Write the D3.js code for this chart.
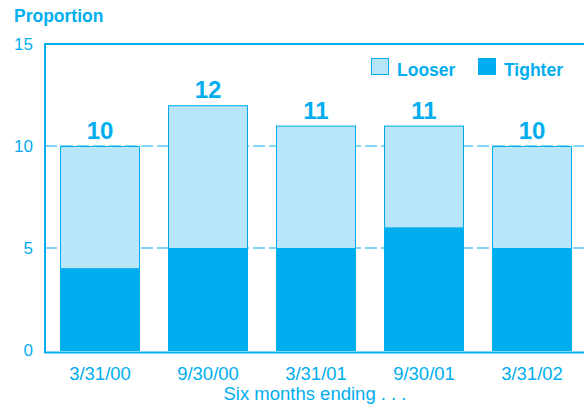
<!DOCTYPE html>
<html>
<head>
<meta charset="utf-8">
<script src="https://cdn.jsdelivr.net/npm/d3@7"></script>
<style>
  html, body { margin: 0; padding: 0; background: #fff; }
  svg { display: block; font-family: "Liberation Sans", Arial, Helvetica, sans-serif; }
</style>
</head>
<body>
<svg id="chart" width="584" height="407"></svg>
<script>
// Six-month periods and the proportion reporting tighter / looser standards
const periods = ["3/31/00", "9/30/00", "3/31/01", "9/30/01", "3/31/02"];
const tighter = [4, 5, 5, 6, 5];
const looser = [6, 7, 6, 5, 5];
const totals = [10, 12, 11, 11, 10];
const yTicks = [0, 5, 10, 15];
const seriesNames = ["Looser", "Tighter"];

const DARK = "#00aeef";
const LIGHT = "#b9e5f9";

const svg = d3.select("#chart");
const plot = { left: 45, right: 600, top: 44, bottom: 351 };

const x = d3.scaleBand()
  .domain(periods)
  .range([60, 572])
  .paddingInner(28 / 108)
  .paddingOuter(0);

const y = d3.scaleLinear().domain([0, 15]).range([350, 44]);

// dashed reference lines at 5 and 10
svg.append("g")
  .selectAll("line")
  .data(yTicks.filter(t => t > 0 && t < 15))
  .join("line")
  .attr("x1", plot.left)
  .attr("x2", plot.right)
  .attr("y1", d => y(d))
  .attr("y2", d => y(d))
  .attr("stroke", DARK)
  .attr("stroke-width", 1.2)
  .attr("stroke-dasharray", "12,4");

// stacked bars: tighter at the bottom, looser above
const rows = periods.map((p, i) => ({ p, tighter: tighter[i], looser: looser[i], total: totals[i] }));
const stack = d3.stack().keys(["tighter", "looser"])(rows);

const bars = svg.append("g");
bars.selectAll("rect.looser")
  .data(stack[1])
  .join("rect")
  .attr("class", "looser")
  .attr("x", d => x(d.data.p) + 0.5)
  .attr("width", x.bandwidth() - 1)
  .attr("y", d => y(d[1]) + 0.5)
  .attr("height", d => y(d[0]) - y(d[1]))
  .attr("fill", LIGHT)
  .attr("stroke", DARK)
  .attr("stroke-width", 1);

bars.selectAll("rect.tighter")
  .data(stack[0])
  .join("rect")
  .attr("class", "tighter")
  .attr("x", d => x(d.data.p))
  .attr("width", x.bandwidth())
  .attr("y", d => y(d[1]))
  .attr("height", d => y(d[0]) - y(d[1]) + 1)
  .attr("fill", DARK);

// totals above each bar
svg.append("g")
  .selectAll("text")
  .data(rows)
  .join("text")
  .attr("x", d => x(d.p) + x.bandwidth() / 2)
  .attr("y", d => y(d.total) - 7)
  .attr("text-anchor", "middle")
  .attr("font-size", 24)
  .attr("font-weight", "bold")
  .attr("fill", DARK)
  .text(d => d.total);

// frame: left, top and bottom rules
svg.append("line").attr("x1", plot.left).attr("x2", plot.left)
  .attr("y1", plot.top - 1).attr("y2", plot.bottom + 2)
  .attr("stroke", DARK).attr("stroke-width", 2);
svg.append("line").attr("x1", plot.left - 1).attr("x2", 584)
  .attr("y1", plot.top).attr("y2", plot.top)
  .attr("stroke", DARK).attr("stroke-width", 2);
svg.append("line").attr("x1", plot.left - 1).attr("x2", 584)
  .attr("y1", plot.bottom + 1.5).attr("y2", plot.bottom + 1.5)
  .attr("stroke", DARK).attr("stroke-width", 2);

// y axis labels
const yAxis = d3.axisLeft(y).tickValues(yTicks).tickSize(0).tickPadding(12);
const yg = svg.append("g").attr("transform", `translate(${plot.left},0)`).call(yAxis);
yg.select(".domain").remove();
yg.selectAll("text")
  .attr("font-size", 17)
  .attr("font-family", "Liberation Sans, Arial, sans-serif")
  .attr("fill", DARK);

// x axis labels
const xAxis = d3.axisBottom(x).tickSize(0).tickPadding(14);
const xg = svg.append("g").attr("transform", `translate(0,${plot.bottom + 2})`).call(xAxis);
xg.select(".domain").remove();
xg.selectAll("text")
  .attr("font-size", 18.5)
  .attr("font-family", "Liberation Sans, Arial, sans-serif")
  .attr("fill", DARK);

// titles
svg.append("text")
  .attr("x", 14).attr("y", 22)
  .attr("font-size", 17.5).attr("font-weight", "bold")
  .attr("fill", DARK)
  .text("Proportion");

svg.append("text")
  .attr("x", 315).attr("y", 400)
  .attr("text-anchor", "middle")
  .attr("font-size", 18.5)
  .attr("fill", DARK)
  .text("Six months ending . . .");

// legend
const legend = svg.append("g");
const legendX = [371, 478];
seriesNames.forEach((name, i) => {
  const g = legend.append("g").attr("transform", `translate(${legendX[i]},58)`);
  g.append("rect")
    .attr("x", 0.5).attr("y", 0.5)
    .attr("width", 17).attr("height", 16)
    .attr("fill", i === 0 ? LIGHT : DARK)
    .attr("stroke", DARK).attr("stroke-width", 1);
  g.append("text")
    .attr("x", 26).attr("y", 18)
    .attr("font-size", 17.5).attr("font-weight", "bold")
    .attr("fill", DARK)
    .text(name);
});
</script>
</body>
</html>
